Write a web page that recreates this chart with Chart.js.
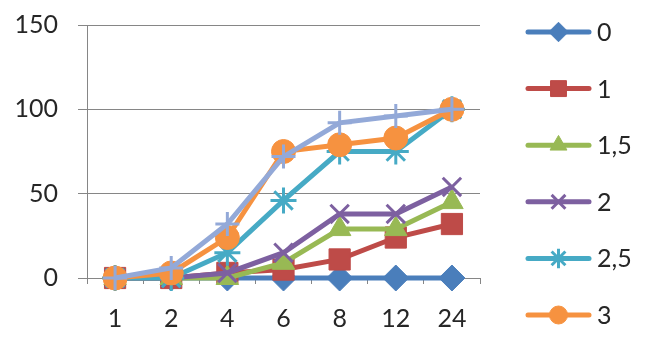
<!DOCTYPE html>
<html>
<head>
<meta charset="utf-8">
<script src="https://cdn.jsdelivr.net/npm/chart.js@4"></script>
<style>
html, body { margin: 0; padding: 0; background: #fff; }
#wrap { width: 647px; height: 342px; }
</style>
</head>
<body>
<div id="wrap"><canvas id="grafica"></canvas></div>
<script>
// horas de muestreo (eje x) y concentraciones (series)
var hours = ['1', '2', '4', '6', '8', '12', '24'];
var seriesNames = ['0', '1', '1,5', '2', '2,5', '3', '3,5'];

var serie0  = [0, 0, 0, 0, 0, 0, 0];
var serie1  = [0, 0, 3, 5, 11, 24, 32];
var serie15 = [0, 0, 0, 9, 29, 29, 45];
var serie2  = [0, 0, 3, 15, 38, 38, 54];
var serie25 = [0, 0, 15, 46, 75, 75, 100];
var serie3  = [0, 3, 24, 75, 79, 83, 100];
var serie35 = [0, 6, 32, 72, 92, 96, 100];

var yMin = 0, yMax = 150, yStep = 50;

var gridColor = '#868686';
var textColor = '#262626';
var fontFamily = 'Lato, "Open Sans", sans-serif';

function makeSeries(i, data, color, style, radius, bw, filled) {
    return {
        label: seriesNames[i],
        data: data,
        borderColor: color,
        backgroundColor: color,
        borderWidth: 5,
        pointStyle: style,
        pointRadius: radius,
        pointHoverRadius: radius,
        pointBorderWidth: bw,
        pointBorderColor: color,
        pointBackgroundColor: filled ? color : 'transparent',
        tension: 0,
        fill: false,
        clip: false,
        order: -i
    };
}

var datasets = [
    makeSeries(0, serie0,  '#4A7EBB', 'rectRot',  13, 1, true),
    makeSeries(1, serie1,  '#BE4B48', 'rect',     15, 1, true),
    makeSeries(2, serie15, '#98B954', 'triangle', 13, 1, true),
    makeSeries(3, serie2,  '#7D60A0', 'crossRot', 13, 3, false),
    makeSeries(4, serie25, '#46AAC5', 'star',     13, 3, false),
    makeSeries(5, serie3,  '#F69240', 'circle',   12, 1, true),
    makeSeries(6, serie35, '#93A9D8', 'cross',    12, 3, false)
];

// leyenda lateral: línea con marcador, solo las seis primeras series
var sideLegend = {
    id: 'sideLegend',
    afterDraw: function(chart) {
        var ctx = chart.ctx;
        var area = chart.chartArea;
        var x0 = area.right + 48, x1 = area.right + 109, xm = (x0 + x1) / 2;
        ctx.save();
        chart.data.datasets.forEach(function(ds, i) {
            if (i > 5) return;
            var y = 32 + i * 56.6;
            ctx.strokeStyle = ds.borderColor;
            ctx.lineWidth = 5;
            ctx.lineCap = 'round';
            ctx.beginPath();
            ctx.moveTo(x0, y);
            ctx.lineTo(x1, y);
            ctx.stroke();
            ctx.lineCap = 'butt';
            ctx.fillStyle = ds.pointBackgroundColor;
            ctx.strokeStyle = ds.pointBorderColor;
            ctx.lineWidth = ds.pointBorderWidth;
            Chart.helpers.drawPoint(ctx, {
                pointStyle: ds.pointStyle,
                radius: ds.pointRadius * 0.75,
                borderWidth: ds.pointBorderWidth,
                rotation: 0
            }, xm, y);
            ctx.fillStyle = textColor;
            ctx.font = '25px ' + fontFamily;
            ctx.textAlign = 'left';
            ctx.textBaseline = 'middle';
            ctx.fillText(ds.label, x1 + 8, y + 1);
        });
        ctx.restore();
    }
};

var ctx = document.getElementById('grafica').getContext('2d');
new Chart(ctx, {
    type: 'line',
    data: {
        labels: hours,
        datasets: datasets
    },
    options: {
        responsive: true,
        maintainAspectRatio: false,
        animation: false,
        layout: { padding: { top: 25, right: 167, left: 0, bottom: 0 } },
        plugins: {
            legend: { display: false },
            tooltip: { enabled: false }
        },
        scales: {
            x: {
                offset: true,
                afterFit: function(scale) { scale.height = 64; },
                grid: {
                    offset: true,
                    drawOnChartArea: false,
                    drawTicks: true,
                    tickLength: 6,
                    color: gridColor
                },
                border: { display: true, color: gridColor, width: 1 },
                ticks: {
                    color: textColor,
                    padding: 20,
                    font: { family: fontFamily, size: 25 },
                    maxRotation: 0
                }
            },
            y: {
                min: yMin,
                max: yMax,
                afterFit: function(scale) {
                    scale.width = 87;
                    scale.paddingTop = 0;
                    scale.paddingBottom = 0;
                },
                grid: {
                    color: gridColor,
                    lineWidth: 1,
                    drawTicks: true,
                    tickLength: 9
                },
                border: { display: true, color: gridColor, width: 1 },
                ticks: {
                    stepSize: yStep,
                    color: textColor,
                    padding: 20,
                    font: { family: fontFamily, size: 25 }
                }
            }
        }
    },
    plugins: [sideLegend]
});
</script>
</body>
</html>
